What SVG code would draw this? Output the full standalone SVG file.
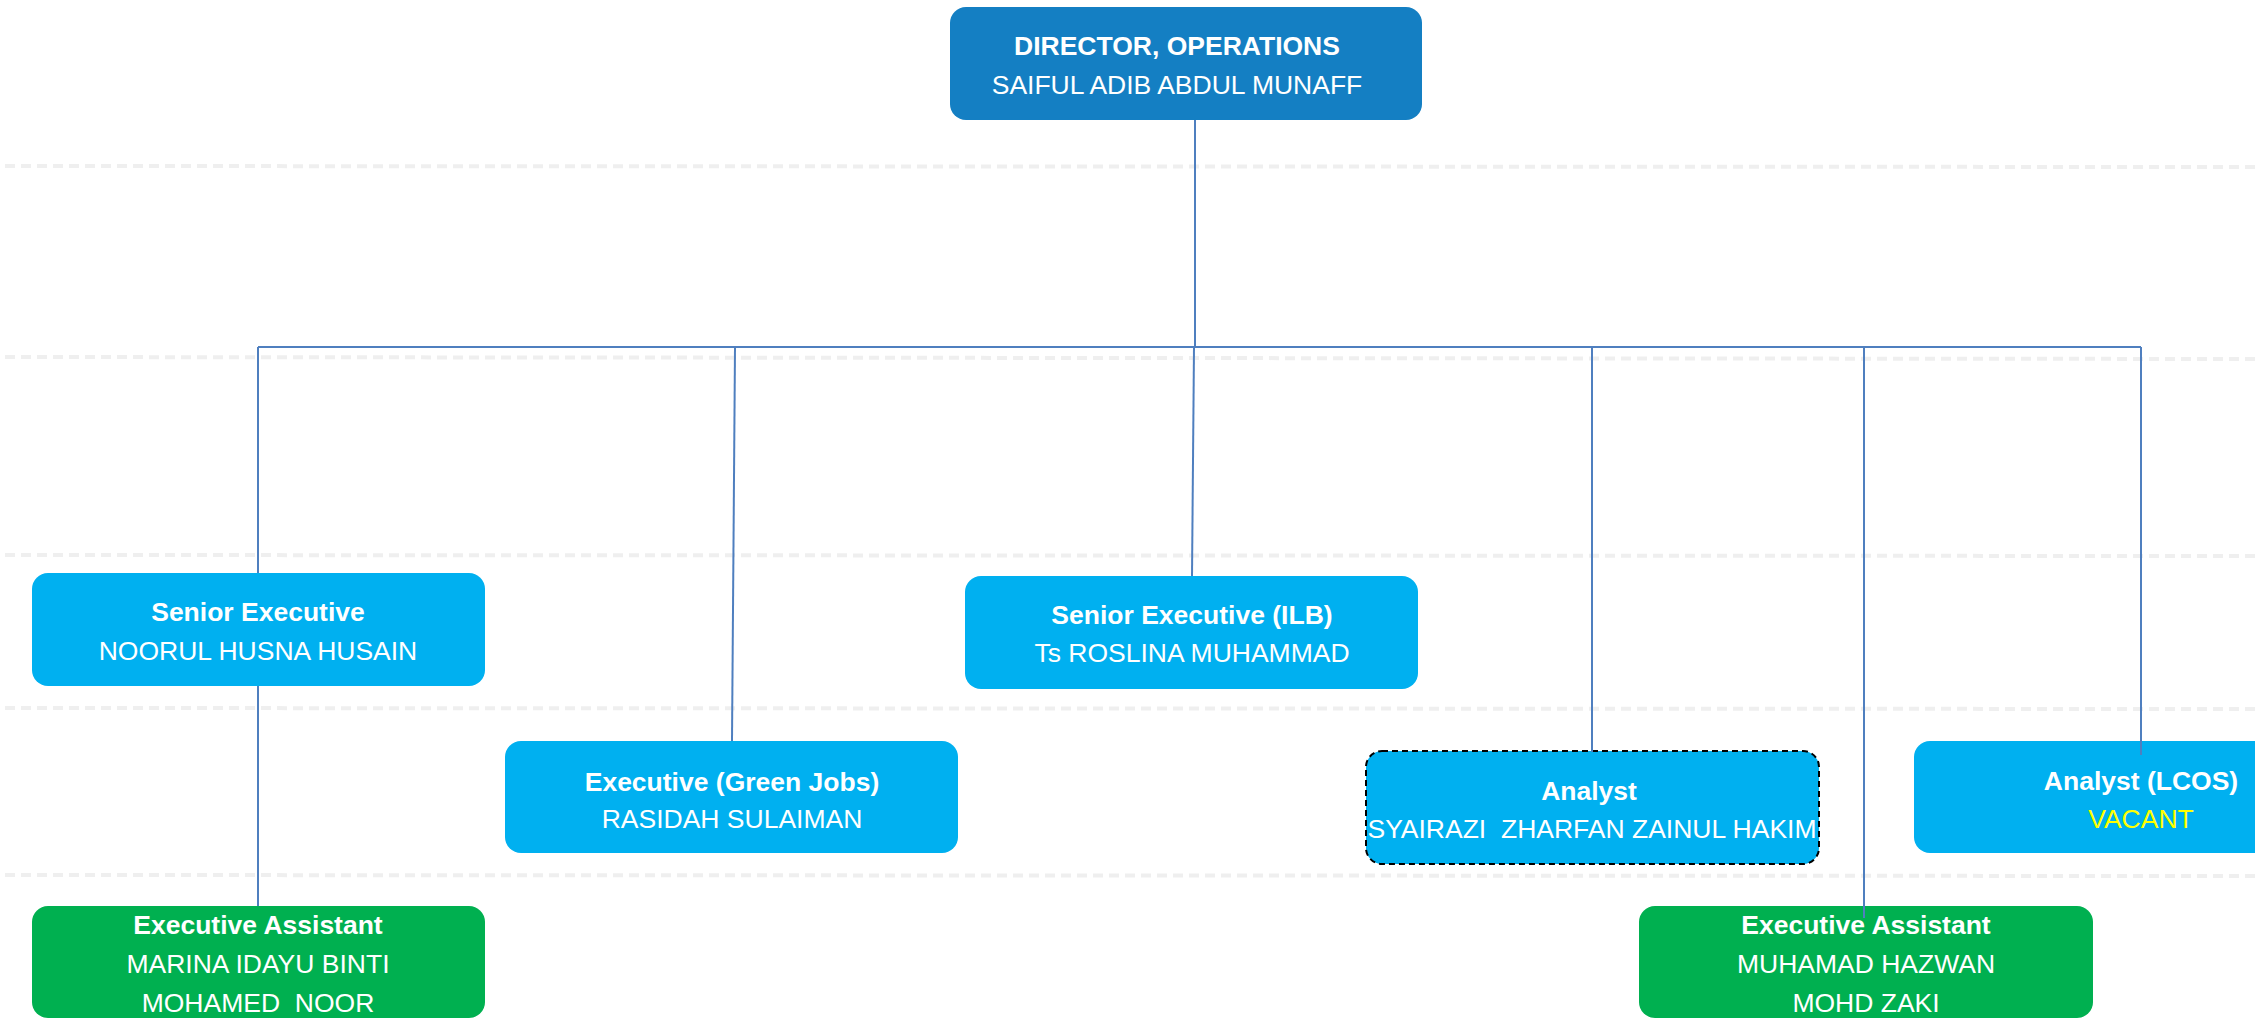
<svg xmlns="http://www.w3.org/2000/svg" width="2255" height="1024" viewBox="0 0 2255 1024">
<style>
.guide{stroke:#efefef;stroke-width:4;stroke-dasharray:10 6;fill:none}
.conn{stroke:#4f7fbf;stroke-width:2;fill:none}
.box{fill:#00b0f0}
.dir{fill:#147fc3}
.green{fill:#00b050}
.t{font-family:"Liberation Sans",Arial,sans-serif;font-size:26.5px;fill:#ffffff;text-anchor:middle;white-space:pre}
.b{font-weight:bold}
.y{fill:#ffff00}
</style>
<rect width="2255" height="1024" fill="#ffffff"/>
<g id="guides">
<line class="guide" x1="5" y1="166" x2="2255" y2="167"/>
<line class="guide" x1="5" y1="357" x2="2255" y2="359"/>
<line class="guide" x1="5" y1="555" x2="2255" y2="556"/>
<line class="guide" x1="5" y1="708" x2="2255" y2="709"/>
<line class="guide" x1="5" y1="875" x2="2255" y2="876"/>
</g>
<g id="director">
<rect class="dir" x="950" y="7" width="472" height="113" rx="16"/>
<text class="t b" x="1177" y="55">DIRECTOR, OPERATIONS</text>
<text class="t" x="1177" y="94">SAIFUL ADIB ABDUL MUNAFF</text>
</g>
<g id="senior-exec">
<rect class="box" x="32" y="573" width="453" height="113" rx="16"/>
<text class="t b" x="258" y="621">Senior Executive</text>
<text class="t" x="258" y="660">NOORUL HUSNA HUSAIN</text>
</g>
<g id="exec-green-jobs">
<rect class="box" x="505" y="741" width="453" height="112" rx="16"/>
<text class="t b" x="732" y="791">Executive (Green Jobs)</text>
<text class="t" x="732" y="828">RASIDAH SULAIMAN</text>
</g>
<g id="senior-exec-ilb">
<rect class="box" x="965" y="576" width="453" height="113" rx="16"/>
<text class="t b" x="1192" y="624">Senior Executive (ILB)</text>
<text class="t" x="1192" y="662">Ts ROSLINA MUHAMMAD</text>
</g>
<g id="analyst">
<rect class="box" x="1366" y="751" width="453" height="113" rx="16" stroke="#000000" stroke-width="2" stroke-dasharray="6 4"/>
<text class="t b" x="1589" y="800">Analyst</text>
<text class="t" x="1592" y="838">SYAIRAZI  ZHARFAN ZAINUL HAKIM</text>
</g>
<g id="analyst-lcos">
<rect class="box" x="1914" y="741" width="453" height="112" rx="16"/>
<text class="t b" x="2141" y="790">Analyst (LCOS)</text>
<text class="t y" x="2141" y="828">VACANT</text>
</g>
<g id="exec-assistant-1">
<rect class="green" x="32" y="906" width="453" height="112" rx="16"/>
<text class="t b" x="258" y="934">Executive Assistant</text>
<text class="t" x="258" y="973">MARINA IDAYU BINTI</text>
<text class="t" x="258" y="1012">MOHAMED  NOOR</text>
</g>
<g id="exec-assistant-2">
<rect class="green" x="1639" y="906" width="454" height="112" rx="16"/>
<text class="t b" x="1866" y="934">Executive Assistant</text>
<text class="t" x="1866" y="973">MUHAMAD HAZWAN</text>
<text class="t" x="1866" y="1012">MOHD ZAKI</text>
</g>
<g id="connectors">
<line class="conn" x1="1195" y1="120" x2="1195" y2="347"/>
<line class="conn" x1="258" y1="347" x2="2141" y2="347" stroke-width="3"/>
<line class="conn" x1="258" y1="347" x2="258" y2="573"/>
<line class="conn" x1="258" y1="686" x2="258" y2="906"/>
<line class="conn" x1="735" y1="347" x2="732" y2="741"/>
<line class="conn" x1="1194" y1="347" x2="1192" y2="576"/>
<line class="conn" x1="1592" y1="347" x2="1592" y2="752"/>
<line class="conn" x1="1864" y1="347" x2="1864" y2="918"/>
<line class="conn" x1="2141" y1="347" x2="2141" y2="755"/>
</g>
</svg>
